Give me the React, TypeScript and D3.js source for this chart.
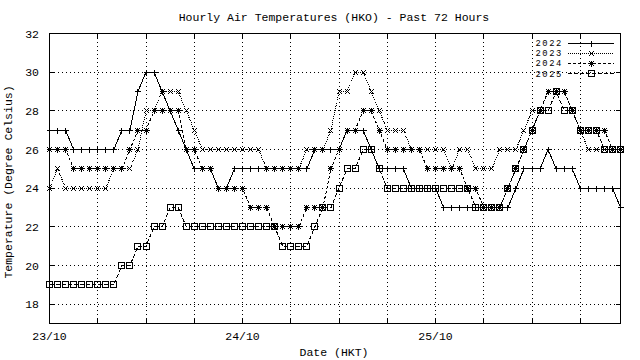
import React from "react";
import * as d3 from "d3";

const HOURS = d3.range(72);
const T2022 = [27,27,27,26,26,26,26,26,26,27,27,29,30,30,29,28,27,26,25,25,25,24,24,25,25,25,25,25,25,25,25,25,25,26,26,26,26,27,27,27,26,25,25,25,25,24,24,24,24,23,23,23,23,23,23,23,23,23,24,25,25,25,26,25,25,25,24,24,24,24,24,23];
const T2023 = [24,25,24,24,24,24,24,24,25,25,25,26,28,28,29,29,29,28,27,26,26,26,26,26,26,26,26,25,25,25,25,25,26,26,26,27,29,29,30,30,29,28,27,27,27,26,26,26,26,26,25,26,26,25,25,25,26,26,26,27,28,28,29,29,29,28,27,26,26,26,26,26];
const T2024 = [26,26,26,25,25,25,25,25,25,25,26,27,27,28,28,28,28,26,26,25,25,24,24,24,24,23,23,23,22,22,22,22,23,23,23,25,26,27,27,28,28,27,26,26,26,26,26,25,25,25,25,25,24,24,23,23,23,24,25,26,27,28,29,29,29,28,27,27,27,27,26,26];
const T2025 = [19,19,19,19,19,19,19,19,19,20,20,21,21,22,22,23,23,22,22,22,22,22,22,22,22,22,22,22,22,21,21,21,21,22,23,23,24,25,25,26,26,25,24,24,24,24,24,24,24,24,24,24,24,23,23,23,23,24,25,26,27,28,28,29,28,28,27,27,27,26,26,26];
const SERIES_NAMES = ["2022", "2023", "2024", "2025"];
const Y_TICKS = [18, 20, 22, 24, 26, 28, 30, 32];
const X_GRID_HOURS = [6, 12, 18, 24, 30, 36, 42, 48, 54, 60, 66];
const X_LABELS = [{ h: 0, label: "23/10" }, { h: 24, label: "24/10" }, { h: 48, label: "25/10" }];

const W = 640, H = 360;
const L = 49, R = 620, T = 33, B = 323;
const FONT = "'Liberation Mono', 'DejaVu Sans Mono', monospace";

const x = d3.scaleLinear().domain([0, 71]).range([L + 0.5, R + 0.5]);
const y = d3.scaleLinear().domain([17, 32]).range([B + 0.5, T + 0.5]);

const DASH = ["", "1,1", "3,2", "4,2"];
const px = (v: number) => Math.round(v - 0.5) + 0.5;

function marker(kind: number, cx: number, cy: number, key: string) {
  const X = px(cx), Y = px(cy);
  const s = 3;
  const plus = `M${X - s},${Y}H${X + s}M${X},${Y - s}V${Y + s}`;
  const cross = `M${X - s + 0.5},${Y - s + 0.5}L${X + s - 0.5},${Y + s - 0.5}M${X - s + 0.5},${Y + s - 0.5}L${X + s - 0.5},${Y - s + 0.5}`;
  if (kind === 0) return <path key={key} d={plus} stroke="#000" fill="none" />;
  if (kind === 1) return <path key={key} d={cross} stroke="#000" fill="none" />;
  if (kind === 2) return <path key={key} d={plus + cross} stroke="#000" fill="none" />;
  return <rect key={key} x={X - 3} y={Y - 3} width={6} height={6} stroke="#000" fill="none" />;
}

export default function App() {
  const data = [T2022, T2023, T2024, T2025];
  const line = d3.line<number>().x((_, i) => x(HOURS[i])).y((d) => y(d));
  return (
    <svg width={W} height={H} style={{ position: "absolute", left: 0, top: 0, background: "#fff" }} fontFamily={FONT} fontSize={11.5}>
      <rect x={0} y={0} width={W} height={H} fill="#fff" />
      {/* grid */}
      <g stroke="#000" strokeDasharray="1,3" shapeRendering="crispEdges">
        {X_GRID_HOURS.map((h) => (
          <line key={"gx" + h} x1={px(x(h))} x2={px(x(h))} y1={T + 0.5} y2={B + 0.5} />
        ))}
        {Y_TICKS.filter((t) => t < 32).map((t) => (
          <line key={"gy" + t} x1={L + 0.5} x2={R + 0.5} y1={px(y(t))} y2={px(y(t))} />
        ))}
      </g>
      {/* ticks */}
      <g stroke="#000" shapeRendering="crispEdges">
        {[0, ...X_GRID_HOURS].map((h) => (
          <g key={"tx" + h}>
            <line x1={px(x(h))} x2={px(x(h))} y1={B + 0.5} y2={B - 4.5} />
            <line x1={px(x(h))} x2={px(x(h))} y1={T + 0.5} y2={T + 5.5} />
          </g>
        ))}
        {Y_TICKS.map((t) => (
          <g key={"ty" + t}>
            <line x1={L + 0.5} x2={L + 5.5} y1={px(y(t))} y2={px(y(t))} />
            <line x1={R + 0.5} x2={R - 4.5} y1={px(y(t))} y2={px(y(t))} />
          </g>
        ))}
      </g>
      {/* data */}
      <g shapeRendering="crispEdges">
        {data.map((s, k) => (
          <path key={"l" + k} d={line(s) || ""} fill="none" stroke="#000" strokeWidth={1} strokeDasharray={DASH[k] || undefined} />
        ))}
        {data.map((s, k) => s.map((v, i) => marker(k, x(HOURS[i]), y(v), `m${k}-${i}`)))}
      </g>
      {/* border */}
      <rect x={L + 0.5} y={T + 0.5} width={R - L} height={B - T} fill="none" stroke="#000" shapeRendering="crispEdges" />
      {/* legend */}
      <g shapeRendering="crispEdges">
        {SERIES_NAMES.map((n, k) => {
          const ly = 43 + k * 10.2;
          return (
            <g key={"lg" + n}>
              <text x={563} y={ly} dy="0.35em" textAnchor="end" fill="#000" fontSize={8.8} letterSpacing={1.6}>{n}</text>
              <line x1={568} x2={614} y1={px(ly)} y2={px(ly)} stroke="#000" strokeDasharray={DASH[k] || undefined} />
              {marker(k, 591, ly, "lm" + k)}
            </g>
          );
        })}
      </g>
      {/* labels */}
      {Y_TICKS.map((t) => (
        <text key={"yl" + t} x={39} y={y(t)} dy="0.35em" textAnchor="end" fill="#000">{t}</text>
      ))}
      {X_LABELS.map((d) => (
        <text key={"xl" + d.h} x={x(d.h)} y={340} textAnchor="middle" fill="#000">{d.label}</text>
      ))}
      <text x={334} y={21} textAnchor="middle" fill="#000">Hourly Air Temperatures (HKO) - Past 72 Hours</text>
      <text x={334} y={356} textAnchor="middle" fill="#000">Date (HKT)</text>
      <text transform="translate(12,182) rotate(-90)" textAnchor="middle" fill="#000">Temperature (Degree Celsius)</text>
    </svg>
  );
}
